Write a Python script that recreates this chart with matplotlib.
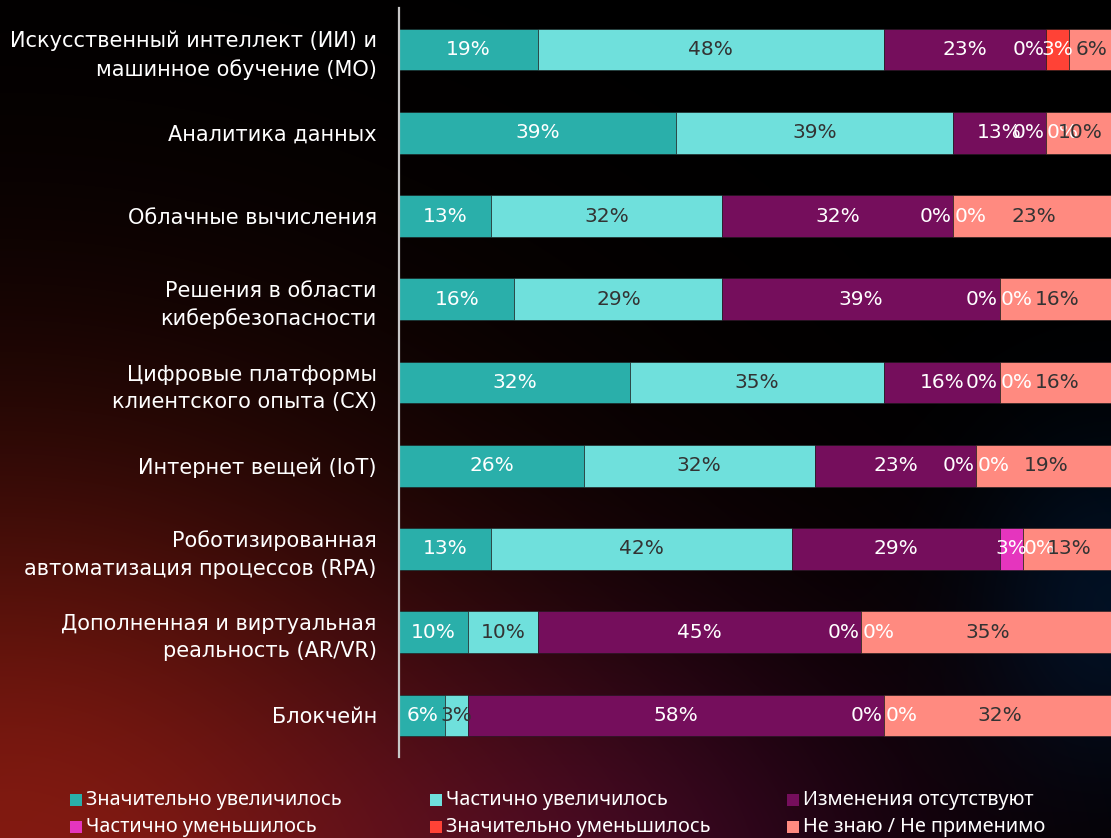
import numpy as np
import matplotlib.pyplot as plt
from matplotlib.patches import Rectangle

plt.rcParams['font.family'] = ['DejaVu Sans']

categories = [
    'Искусственный интеллект (ИИ) и\nмашинное обучение (МО)',
    'Аналитика данных',
    'Облачные вычисления',
    'Решения в области\nкибербезопасности',
    'Цифровые платформы\nклиентского опыта (CX)',
    'Интернет вещей (IoT)',
    'Роботизированная\nавтоматизация процессов (RPA)',
    'Дополненная и виртуальная\nреальность (AR/VR)',
    'Блокчейн',
]
series = ['Значительно увеличилось', 'Частично увеличилось', 'Изменения отсутствуют',
          'Частично уменьшилось', 'Значительно уменьшилось', 'Не знаю / Не применимо']

sig_up = [19.35, 38.71, 12.90, 16.13, 32.26, 25.81, 12.90, 9.68, 6.45]
part_up = [48.39, 38.71, 32.26, 29.03, 35.48, 32.26, 41.94, 9.68, 3.23]
no_change = [22.58, 12.90, 32.26, 38.71, 16.13, 22.58, 29.03, 45.16, 58.06]
part_down = [0, 0, 0, 0, 0, 0, 3.23, 0, 0]
sig_down = [3.23, 0, 0, 0, 0, 0, 0, 0, 0]
dont_know = [6.45, 9.68, 22.58, 16.13, 16.13, 19.35, 12.90, 35.48, 32.26]

colors = ['#2aafaa', '#6fe0dc', '#750e5c', '#e535be', '#ff4236', '#ff8a80']
text_colors = ['white', '#333333', 'white', 'white', 'white', '#333333']

W, H = 1111, 838
fig = plt.figure(figsize=(W / 100, H / 100), dpi=100)

# background glow
yy, xx = np.mgrid[0:H, 0:W]
u = xx / W
v = yy / H
img = np.zeros((H, W, 3))
g_red = np.exp(-((u / 0.45) ** 2 + ((v - 1.05) / 0.52) ** 2))
g_pur = np.exp(-(((u - 0.55) / 0.3) ** 2 + ((v - 1.05) / 0.3) ** 2))
g_blu = np.exp(-(((u - 1.0) / 0.12) ** 2 + ((v - 0.72) / 0.2) ** 2))
img += g_red[..., None] * np.array([130, 26, 16])
img += g_pur[..., None] * np.array([40, 4, 30])
img += g_blu[..., None] * np.array([0, 16, 34])
img = np.clip(img, 0, 255) / 255
bg = fig.add_axes([0, 0, 1, 1], zorder=-10)
bg.imshow(img, aspect='auto')
bg.axis('off')

ax = fig.add_axes([399 / W, 1 - 757 / H, 1 - 399 / W, (757 - 8) / H])
ax.set_facecolor('none')

data = [sig_up, part_up, no_change, part_down, sig_down, dont_know]
y = np.arange(len(categories))
left = np.zeros(len(categories))
for k, vals in enumerate(data):
    vals = np.array(vals)
    ax.barh(y, vals, left=left, height=0.5, color=colors[k], edgecolor='#1a1a1a',
            linewidth=0.4, label=series[k])
    for i, val in enumerate(vals):
        lab = f'{val:.0f}%'
        if val == 0:
            ha = 'right' if k == 3 else 'left'
            ax.annotate(lab, (left[i], y[i]), xytext=(-1 if k == 3 else 1, 0),
                        textcoords='offset points', ha=ha, va='center',
                        color='white', fontsize=14.5)
        else:
            ax.text(left[i] + val / 2, y[i], lab, ha='center', va='center',
                    color=text_colors[k], fontsize=14.5)
    left += vals

ax.set_xlim(0, (W - 399) / 7.16)
ax.set_ylim(len(categories) - 0.5, -0.5)
ax.set_yticks(y)
ax.set_yticklabels(categories, fontsize=15, color='white', linespacing=1.45)
ax.tick_params(axis='y', length=0, pad=16)
ax.set_xticks([])
for s in ['top', 'right', 'bottom']:
    ax.spines[s].set_visible(False)
ax.spines['left'].set_color('#c8c8c8')
ax.spines['left'].set_linewidth(1.6)

# legend
leg_x = [70, 430, 787]
leg_y = [800, 827]
for k, name in enumerate(series):
    col = k % 3
    row = k // 3
    x0 = leg_x[col] / W
    y0 = 1 - leg_y[row] / H
    fig.patches.append(Rectangle((x0, y0 - 6 / H), 12 / W, 12 / H, transform=fig.transFigure,
                                 facecolor=colors[k], edgecolor='none'))
    fig.text(x0 + 16 / W, y0, name, color='white', fontsize=14.3, va='center', ha='left',
             family='Noto Sans')

fig.savefig('out.png', dpi=100)
